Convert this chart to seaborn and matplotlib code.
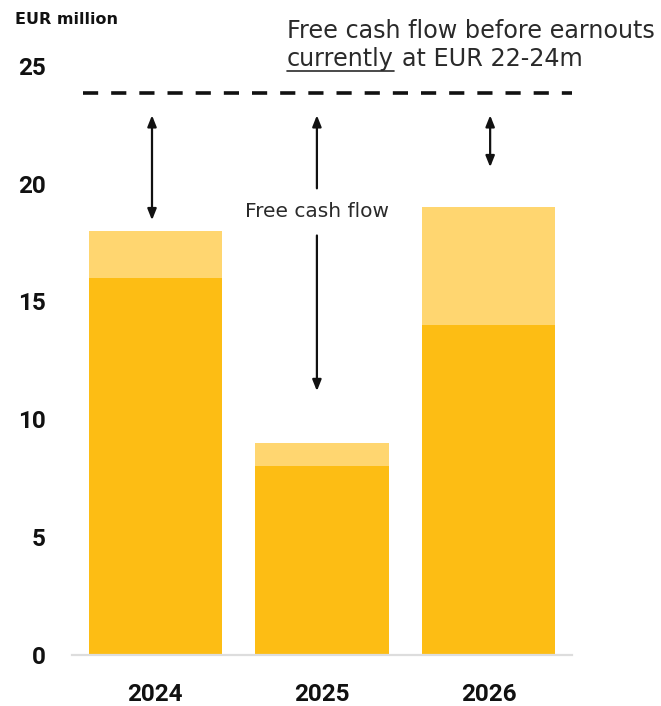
import matplotlib
matplotlib.use("Agg")
import matplotlib.pyplot as plt
import seaborn as sns
import pandas as pd

# ── data ─────────────────────────────────────────────
years = ["2024", "2025", "2026"]
fcf_base = [16, 8, 14]          # darker part
fcf_total = [18, 9, 19]         # incl. lighter top part
target_level = 23.85            # FCF before earnouts
yticks = [0, 5, 10, 15, 20, 25]

DARK = "#FDBD14"
LIGHT = "#FFD670"
TXT = ["DejaVu Sans"]

df = pd.DataFrame({"year": years, "base": fcf_base, "total": fcf_total})

sns.set_theme(style="white")
plt.rcParams["font.family"] = ["Roboto", "DejaVu Sans"]

fig = plt.figure(figsize=(6.61, 7.06), dpi=100)
ax = fig.add_axes([0.109, 0.0722, 0.756, 0.868])

sns.barplot(data=df, x="year", y="total", color=LIGHT, width=0.8,
            saturation=1, linewidth=0, ax=ax)
sns.barplot(data=df, x="year", y="base", color=DARK, width=0.8,
            saturation=1, linewidth=0, ax=ax)

ax.set_xlim(-0.5, 2.5)
ax.set_ylim(0, 26)
ax.set_yticks(yticks)
ax.set_xlabel("")
ax.set_ylabel("")
for s in ["top", "right", "left"]:
    ax.spines[s].set_visible(False)
ax.spines["bottom"].set_color("#DDDDDD")
ax.spines["bottom"].set_linewidth(1.6)
ax.tick_params(axis="y", length=0, pad=19, labelsize=17.5)
ax.tick_params(axis="x", length=0, pad=20, labelsize=17.5)
for lbl in ax.get_xticklabels() + ax.get_yticklabels():
    lbl.set_fontweight("bold")
    lbl.set_color("#111111")

# dashed target line
ax.axhline(target_level, xmin=0.022, xmax=1.0, color="#111111", lw=2.6,
           linestyle=(0, (4.2, 3.6)))

# arrows between bars and target
arrow_kw = dict(arrowstyle="<|-|>,head_length=0.55,head_width=0.22",
                color="#111111", lw=1.6, shrinkA=0, shrinkB=0)
one_kw = dict(arrowstyle="-|>,head_length=0.55,head_width=0.22",
              color="#111111", lw=1.6, shrinkA=0, shrinkB=0)
ax.annotate("", xy=(-0.02, 22.9), xytext=(-0.02, 18.45), arrowprops=arrow_kw)
ax.annotate("", xy=(2.01, 22.9), xytext=(2.01, 20.7), arrowprops=arrow_kw)
ax.annotate("", xy=(0.97, 22.9), xytext=(0.97, 19.8), arrowprops=one_kw)
ax.annotate("", xy=(0.97, 11.2), xytext=(0.97, 17.8), arrowprops=one_kw)
ax.text(0.97, 18.8, "Free cash flow", ha="center", va="center",
        fontsize=14.5, color="#2a2a2a", family=TXT)

# header texts
fig.text(15 / 661, 1 - 20 / 706, "EUR million", ha="left", va="center",
         fontsize=11.5, fontweight="bold", color="#111111", family=TXT)
fig.text(287 / 661, 1 - 31 / 706, "Free cash flow before earnouts",
         ha="left", va="center", fontsize=17.2, color="#2a2a2a", family=TXT)
t1 = fig.text(287 / 661, 1 - 59 / 706, "currently", ha="left", va="center",
              fontsize=17.2, color="#2a2a2a", family=TXT)
fig.canvas.draw()
bb = t1.get_window_extent().transformed(fig.transFigure.inverted())
fig.text(bb.x1 + 0.012, 1 - 59 / 706, "at EUR 22-24m", ha="left", va="center",
         fontsize=17.2, color="#2a2a2a", family=TXT)
fig.add_artist(plt.Line2D([bb.x0, bb.x1], [1 - 71 / 706, 1 - 71 / 706],
                          transform=fig.transFigure, color="#2a2a2a", lw=1.2))

fig.savefig("out.png", dpi=100)
